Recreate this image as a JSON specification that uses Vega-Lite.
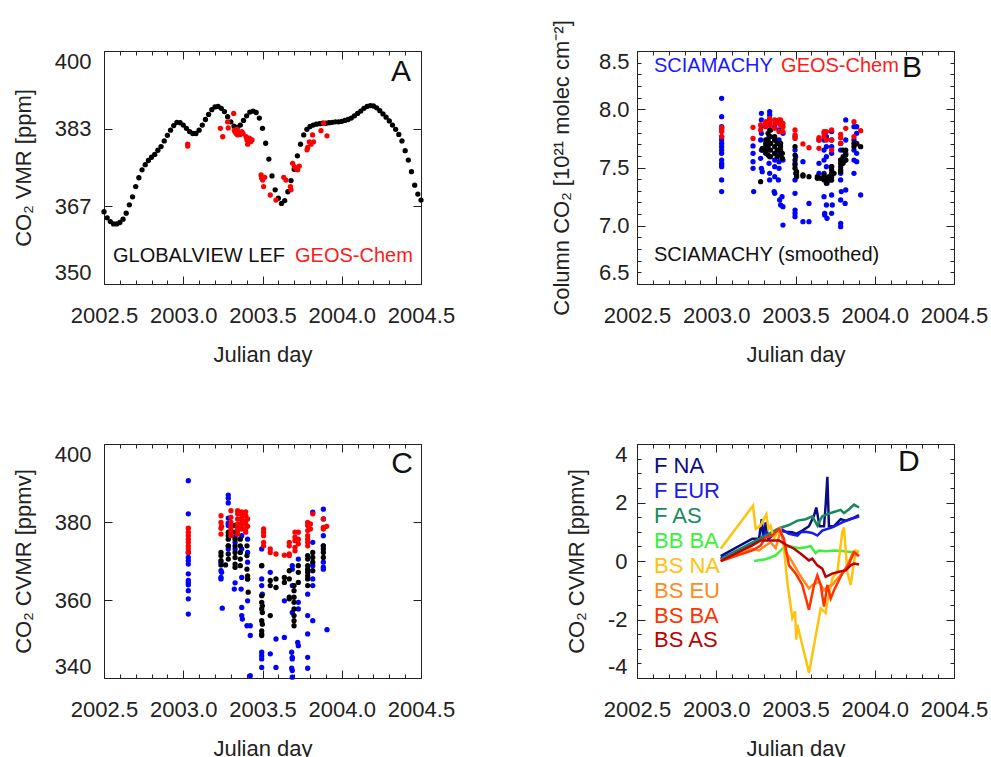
{
"$schema": "https://vega.github.io/schema/vega-lite/v6.json",
"padding": {"left": 11, "top": 19, "right": 5, "bottom": 5},
"background": "white",
"config": {
  "font": "Liberation Sans",
  "view": {"stroke": "#222", "strokeWidth": 1},
  "axis": {"grid": false, "domain": false, "labelFont": "Liberation Sans", "labelFontSize": 22, "labelColor": "#222", "titleFont": "Liberation Sans", "titleFontSize": 22, "titleFontWeight": "normal", "titleColor": "#222", "tickColor": "#222", "tickWidth": 1, "labelOverlap": false},
  "text": {"font": "Liberation Sans"},
  "circle": {"size": 28, "opacity": 1}
},
"datasets": {
"gv": [{"x":2002.50,"y":365.5},{"x":2002.52,"y":364.2},{"x":2002.54,"y":363.4},{"x":2002.56,"y":362.9},{"x":2002.58,"y":362.9},{"x":2002.60,"y":363.2},{"x":2002.62,"y":363.9},{"x":2002.64,"y":365.2},{"x":2002.66,"y":367.0},{"x":2002.68,"y":368.7},{"x":2002.70,"y":370.9},{"x":2002.72,"y":372.8},{"x":2002.74,"y":374.5},{"x":2002.76,"y":375.6},{"x":2002.78,"y":376.5},{"x":2002.80,"y":377.2},{"x":2002.82,"y":377.8},{"x":2002.84,"y":378.7},{"x":2002.86,"y":379.5},{"x":2002.88,"y":380.7},{"x":2002.90,"y":381.9},{"x":2002.92,"y":383.0},{"x":2002.94,"y":384.0},{"x":2002.96,"y":384.7},{"x":2002.98,"y":384.6},{"x":2003.00,"y":384.1},{"x":2003.02,"y":383.4},{"x":2003.04,"y":382.7},{"x":2003.06,"y":382.3},{"x":2003.08,"y":382.3},{"x":2003.10,"y":383.0},{"x":2003.12,"y":384.1},{"x":2003.14,"y":385.3},{"x":2003.16,"y":386.4},{"x":2003.18,"y":387.4},{"x":2003.20,"y":388.0},{"x":2003.22,"y":388.1},{"x":2003.24,"y":387.7},{"x":2003.26,"y":387.0},{"x":2003.28,"y":385.9},{"x":2003.30,"y":384.8},{"x":2003.32,"y":383.9},{"x":2003.34,"y":383.6},{"x":2003.36,"y":384.1},{"x":2003.38,"y":385.1},{"x":2003.40,"y":386.1},{"x":2003.42,"y":386.9},{"x":2003.44,"y":387.1},{"x":2003.46,"y":386.8},{"x":2003.48,"y":385.6},{"x":2003.50,"y":383.4},{"x":2003.52,"y":380.2},{"x":2003.54,"y":376.8},{"x":2003.56,"y":373.2},{"x":2003.58,"y":370.2},{"x":2003.60,"y":368.4},{"x":2003.62,"y":367.3},{"x":2003.64,"y":367.9},{"x":2003.66,"y":369.8},{"x":2003.68,"y":372.2},{"x":2003.70,"y":374.6},{"x":2003.72,"y":377.5},{"x":2003.74,"y":380.0},{"x":2003.76,"y":382.0},{"x":2003.78,"y":383.2},{"x":2003.80,"y":383.8},{"x":2003.82,"y":384.1},{"x":2003.84,"y":384.3},{"x":2003.86,"y":384.4},{"x":2003.88,"y":384.5},{"x":2003.90,"y":384.5},{"x":2003.92,"y":384.6},{"x":2003.94,"y":384.7},{"x":2003.96,"y":384.8},{"x":2003.98,"y":384.8},{"x":2004.00,"y":384.9},{"x":2004.02,"y":385.1},{"x":2004.04,"y":385.3},{"x":2004.06,"y":385.6},{"x":2004.08,"y":386.1},{"x":2004.10,"y":386.6},{"x":2004.12,"y":387.1},{"x":2004.14,"y":387.7},{"x":2004.16,"y":388.1},{"x":2004.18,"y":388.3},{"x":2004.20,"y":388.2},{"x":2004.22,"y":387.8},{"x":2004.24,"y":387.2},{"x":2004.26,"y":386.5},{"x":2004.28,"y":385.8},{"x":2004.30,"y":385.0},{"x":2004.32,"y":384.1},{"x":2004.34,"y":383.2},{"x":2004.36,"y":382.1},{"x":2004.38,"y":380.7},{"x":2004.40,"y":378.6},{"x":2004.42,"y":376.6},{"x":2004.44,"y":374.1},{"x":2004.46,"y":371.2},{"x":2004.48,"y":369.3},{"x":2004.50,"y":368.0}],
"gcA": [{"x":2003.028,"y":380.0},{"x":2003.028,"y":379.6},{"x":2003.234,"y":383.4},{"x":2003.249,"y":381.6},{"x":2003.280,"y":384.8},{"x":2003.284,"y":383.5},{"x":2003.318,"y":386.6},{"x":2003.322,"y":383.0},{"x":2003.327,"y":382.7},{"x":2003.333,"y":382.3},{"x":2003.339,"y":383.2},{"x":2003.343,"y":382.0},{"x":2003.348,"y":382.7},{"x":2003.354,"y":382.5},{"x":2003.360,"y":382.1},{"x":2003.369,"y":382.7},{"x":2003.377,"y":382.3},{"x":2003.396,"y":381.6},{"x":2003.402,"y":380.9},{"x":2003.406,"y":380.0},{"x":2003.417,"y":381.3},{"x":2003.425,"y":380.5},{"x":2003.434,"y":380.9},{"x":2003.491,"y":373.4},{"x":2003.495,"y":372.7},{"x":2003.501,"y":372.3},{"x":2003.507,"y":370.9},{"x":2003.514,"y":372.9},{"x":2003.549,"y":369.1},{"x":2003.585,"y":368.0},{"x":2003.634,"y":372.9},{"x":2003.648,"y":372.3},{"x":2003.676,"y":370.9},{"x":2003.680,"y":370.2},{"x":2003.690,"y":375.9},{"x":2003.701,"y":375.2},{"x":2003.711,"y":374.8},{"x":2003.722,"y":374.5},{"x":2003.732,"y":375.3},{"x":2003.781,"y":378.8},{"x":2003.785,"y":379.3},{"x":2003.795,"y":380.5},{"x":2003.806,"y":380.0},{"x":2003.816,"y":382.0},{"x":2003.822,"y":380.5},{"x":2003.869,"y":382.9},{"x":2003.886,"y":384.5},{"x":2003.907,"y":381.8}],
"sciaB": [{"x":2003.034,"y":8.094},{"x":2003.034,"y":7.936},{"x":2003.034,"y":7.850},{"x":2003.034,"y":7.836},{"x":2003.034,"y":7.765},{"x":2003.034,"y":7.736},{"x":2003.034,"y":7.707},{"x":2003.034,"y":7.679},{"x":2003.034,"y":7.650},{"x":2003.034,"y":7.622},{"x":2003.034,"y":7.564},{"x":2003.034,"y":7.536},{"x":2003.034,"y":7.521},{"x":2003.034,"y":7.507},{"x":2003.034,"y":7.393},{"x":2003.034,"y":7.293},
{"x":2003.232,"y":7.685},{"x":2003.232,"y":7.622},{"x":2003.232,"y":7.550},{"x":2003.232,"y":7.493},{"x":2003.236,"y":7.293},
{"x":2003.285,"y":7.965},{"x":2003.285,"y":7.908},{"x":2003.285,"y":7.850},{"x":2003.285,"y":7.793},{"x":2003.280,"y":7.736},{"x":2003.285,"y":7.650},{"x":2003.280,"y":7.579},{"x":2003.285,"y":7.493},{"x":2003.290,"y":7.464},
{"x":2003.337,"y":7.979},{"x":2003.337,"y":7.951},{"x":2003.337,"y":7.908},{"x":2003.337,"y":7.822},{"x":2003.333,"y":7.765},{"x":2003.337,"y":7.707},{"x":2003.333,"y":7.650},{"x":2003.337,"y":7.593},{"x":2003.333,"y":7.536},{"x":2003.337,"y":7.450},{"x":2003.337,"y":7.393},
{"x":2003.369,"y":7.850},{"x":2003.369,"y":7.736},{"x":2003.369,"y":7.622},{"x":2003.369,"y":7.564},{"x":2003.369,"y":7.507},{"x":2003.369,"y":7.421},{"x":2003.365,"y":7.293},{"x":2003.369,"y":7.278},
{"x":2003.396,"y":7.822},{"x":2003.396,"y":7.736},{"x":2003.396,"y":7.622},{"x":2003.396,"y":7.550},{"x":2003.396,"y":7.493},{"x":2003.392,"y":7.393},{"x":2003.400,"y":7.221},{"x":2003.406,"y":7.178},
{"x":2003.421,"y":7.793},{"x":2003.421,"y":7.564},{"x":2003.415,"y":7.250},{"x":2003.421,"y":7.164},{"x":2003.421,"y":7.006},
{"x":2003.497,"y":7.765},{"x":2003.497,"y":7.650},{"x":2003.501,"y":7.593},{"x":2003.497,"y":7.536},{"x":2003.501,"y":7.450},{"x":2003.497,"y":7.393},{"x":2003.497,"y":7.278},{"x":2003.497,"y":7.135},{"x":2003.497,"y":7.107},{"x":2003.497,"y":7.078},
{"x":2003.547,"y":7.550},{"x":2003.547,"y":7.035},{"x":2003.585,"y":7.192},{"x":2003.585,"y":7.035},
{"x":2003.648,"y":7.736},{"x":2003.648,"y":7.536},{"x":2003.648,"y":7.450},
{"x":2003.680,"y":7.736},{"x":2003.680,"y":7.650},{"x":2003.680,"y":7.564},{"x":2003.680,"y":7.450},{"x":2003.680,"y":7.250},{"x":2003.684,"y":7.107},{"x":2003.684,"y":7.092},
{"x":2003.695,"y":7.765},{"x":2003.695,"y":7.679},{"x":2003.695,"y":7.593},{"x":2003.695,"y":7.507},{"x":2003.699,"y":7.364},{"x":2003.695,"y":7.178},{"x":2003.699,"y":7.064},
{"x":2003.728,"y":7.808},{"x":2003.728,"y":7.736},{"x":2003.728,"y":7.679},{"x":2003.728,"y":7.622},{"x":2003.728,"y":7.507},{"x":2003.724,"y":7.393},{"x":2003.728,"y":7.264},{"x":2003.732,"y":7.178},{"x":2003.728,"y":7.107},
{"x":2003.785,"y":7.707},{"x":2003.785,"y":7.650},{"x":2003.785,"y":7.564},{"x":2003.785,"y":7.450},{"x":2003.785,"y":7.393},{"x":2003.789,"y":7.293},{"x":2003.785,"y":7.221},{"x":2003.785,"y":7.021},{"x":2003.785,"y":6.992},
{"x":2003.817,"y":7.908},{"x":2003.817,"y":7.736},{"x":2003.817,"y":7.622},{"x":2003.817,"y":7.564},{"x":2003.817,"y":7.307},{"x":2003.813,"y":7.192},
{"x":2003.869,"y":7.850},{"x":2003.869,"y":7.736},{"x":2003.869,"y":7.650},{"x":2003.869,"y":7.564},{"x":2003.869,"y":7.450},
{"x":2003.886,"y":7.850},{"x":2003.886,"y":7.793},{"x":2003.886,"y":7.707},{"x":2003.886,"y":7.622},{"x":2003.886,"y":7.550},{"x":2003.911,"y":7.264}],
"smB": [{"x":2003.280,"y":7.378},{"x":2003.291,"y":7.665},{"x":2003.291,"y":7.650},{"x":2003.312,"y":7.736},{"x":2003.312,"y":7.707},{"x":2003.312,"y":7.679},{"x":2003.312,"y":7.650},{"x":2003.312,"y":7.622},{"x":2003.327,"y":7.793},{"x":2003.327,"y":7.736},{"x":2003.327,"y":7.679},{"x":2003.327,"y":7.607},{"x":2003.343,"y":7.822},{"x":2003.343,"y":7.765},{"x":2003.343,"y":7.707},{"x":2003.343,"y":7.650},{"x":2003.343,"y":7.593},{"x":2003.369,"y":7.765},{"x":2003.369,"y":7.736},{"x":2003.369,"y":7.679},{"x":2003.369,"y":7.622},{"x":2003.385,"y":7.707},{"x":2003.385,"y":7.650},{"x":2003.385,"y":7.593},{"x":2003.406,"y":7.707},{"x":2003.406,"y":7.679},{"x":2003.406,"y":7.650},{"x":2003.406,"y":7.607},{"x":2003.417,"y":7.622},{"x":2003.417,"y":7.579},{"x":2003.497,"y":7.679},{"x":2003.497,"y":7.607},{"x":2003.497,"y":7.564},{"x":2003.497,"y":7.521},{"x":2003.497,"y":7.493},{"x":2003.507,"y":7.464},{"x":2003.507,"y":7.436},{"x":2003.507,"y":7.421},{"x":2003.547,"y":7.436},{"x":2003.547,"y":7.427},{"x":2003.585,"y":7.421},{"x":2003.638,"y":7.421},{"x":2003.638,"y":7.407},{"x":2003.659,"y":7.407},{"x":2003.680,"y":7.436},{"x":2003.680,"y":7.421},{"x":2003.680,"y":7.393},{"x":2003.695,"y":7.407},{"x":2003.695,"y":7.378},{"x":2003.695,"y":7.364},{"x":2003.711,"y":7.393},{"x":2003.711,"y":7.421},{"x":2003.728,"y":7.507},{"x":2003.728,"y":7.479},{"x":2003.728,"y":7.450},{"x":2003.728,"y":7.421},{"x":2003.728,"y":7.393},{"x":2003.743,"y":7.450},{"x":2003.785,"y":7.564},{"x":2003.785,"y":7.536},{"x":2003.785,"y":7.507},{"x":2003.785,"y":7.479},{"x":2003.785,"y":7.464},{"x":2003.800,"y":7.593},{"x":2003.800,"y":7.650},{"x":2003.800,"y":7.536},{"x":2003.817,"y":7.650},{"x":2003.817,"y":7.607},{"x":2003.817,"y":7.564},{"x":2003.869,"y":7.707},{"x":2003.869,"y":7.679},{"x":2003.886,"y":7.702},{"x":2003.911,"y":7.679}],
"gcB": [{"x":2003.034,"y":7.845},{"x":2003.034,"y":7.822},{"x":2003.034,"y":7.808},{"x":2003.034,"y":7.765},{"x":2003.232,"y":7.845},{"x":2003.232,"y":7.750},{"x":2003.280,"y":7.865},{"x":2003.280,"y":7.822},{"x":2003.312,"y":7.893},{"x":2003.312,"y":7.879},{"x":2003.312,"y":7.850},{"x":2003.337,"y":7.922},{"x":2003.337,"y":7.893},{"x":2003.337,"y":7.865},{"x":2003.369,"y":7.908},{"x":2003.369,"y":7.879},{"x":2003.369,"y":7.836},{"x":2003.396,"y":7.908},{"x":2003.396,"y":7.879},{"x":2003.396,"y":7.808},{"x":2003.406,"y":7.908},{"x":2003.406,"y":7.865},{"x":2003.421,"y":7.879},{"x":2003.421,"y":7.850},{"x":2003.421,"y":7.808},{"x":2003.497,"y":7.822},{"x":2003.497,"y":7.779},{"x":2003.497,"y":7.750},{"x":2003.547,"y":7.702},{"x":2003.585,"y":7.670},{"x":2003.648,"y":7.756},{"x":2003.648,"y":7.736},{"x":2003.648,"y":7.665},{"x":2003.680,"y":7.808},{"x":2003.680,"y":7.793},{"x":2003.680,"y":7.765},{"x":2003.695,"y":7.808},{"x":2003.695,"y":7.736},{"x":2003.728,"y":7.822},{"x":2003.728,"y":7.736},{"x":2003.728,"y":7.650},{"x":2003.785,"y":7.785},{"x":2003.785,"y":7.756},{"x":2003.785,"y":7.707},{"x":2003.817,"y":7.836},{"x":2003.869,"y":7.893},{"x":2003.869,"y":7.765},{"x":2003.911,"y":7.816}],
"sciaC": [{"x":2003.032,"y":390.6},{"x":2003.032,"y":382.1},{"x":2003.032,"y":372.2},{"x":2003.032,"y":370.9},{"x":2003.032,"y":370.1},{"x":2003.032,"y":369.2},{"x":2003.032,"y":366.7},{"x":2003.032,"y":365.0},{"x":2003.032,"y":364.4},{"x":2003.032,"y":363.9},{"x":2003.032,"y":362.4},{"x":2003.032,"y":360.3},{"x":2003.032,"y":356.4},
{"x":2003.238,"y":369.7},{"x":2003.238,"y":367.5},{"x":2003.242,"y":367.1},{"x":2003.238,"y":365.8},{"x":2003.238,"y":365.4},{"x":2003.246,"y":357.9},
{"x":2003.284,"y":386.9},{"x":2003.284,"y":386.1},{"x":2003.284,"y":384.9},{"x":2003.284,"y":381.0},{"x":2003.284,"y":379.7},{"x":2003.284,"y":379.1},{"x":2003.284,"y":373.9},{"x":2003.284,"y":373.1},
{"x":2003.327,"y":376.1},{"x":2003.327,"y":374.8},{"x":2003.327,"y":373.1},{"x":2003.327,"y":364.4},{"x":2003.322,"y":362.8},
{"x":2003.369,"y":376.5},{"x":2003.369,"y":373.1},{"x":2003.369,"y":365.8},{"x":2003.365,"y":362.8},{"x":2003.369,"y":358.1},{"x":2003.369,"y":356.0},{"x":2003.373,"y":355.1},
{"x":2003.406,"y":375.6},{"x":2003.406,"y":372.2},{"x":2003.406,"y":369.7},{"x":2003.406,"y":365.4},{"x":2003.406,"y":359.8},{"x":2003.402,"y":353.4},{"x":2003.423,"y":353.4},{"x":2003.423,"y":350.9},{"x":2003.423,"y":340.6},
{"x":2003.495,"y":373.1},{"x":2003.495,"y":368.8},{"x":2003.495,"y":365.4},{"x":2003.495,"y":363.7},{"x":2003.499,"y":361.5},{"x":2003.495,"y":346.6},{"x":2003.495,"y":345.7},{"x":2003.495,"y":344.9},{"x":2003.495,"y":342.7},
{"x":2003.549,"y":367.1},{"x":2003.549,"y":346.2},{"x":2003.585,"y":350.0},{"x":2003.585,"y":342.7},{"x":2003.638,"y":359.8},{"x":2003.638,"y":350.4},
{"x":2003.688,"y":368.8},{"x":2003.688,"y":367.9},{"x":2003.688,"y":363.7},{"x":2003.688,"y":356.8},{"x":2003.684,"y":346.6},{"x":2003.688,"y":345.3},{"x":2003.688,"y":344.9},{"x":2003.684,"y":342.5},{"x":2003.688,"y":341.9},{"x":2003.688,"y":340.2},
{"x":2003.726,"y":370.5},{"x":2003.726,"y":359.4},{"x":2003.726,"y":357.7},{"x":2003.722,"y":349.1},{"x":2003.726,"y":348.3},
{"x":2003.785,"y":361.5},{"x":2003.785,"y":356.0},{"x":2003.785,"y":351.3},{"x":2003.785,"y":345.3},{"x":2003.785,"y":342.5},
{"x":2003.817,"y":382.5},{"x":2003.817,"y":374.8},{"x":2003.817,"y":368.8},{"x":2003.817,"y":365.4},{"x":2003.817,"y":363.7},{"x":2003.817,"y":354.7},
{"x":2003.884,"y":383.3},{"x":2003.884,"y":380.8},{"x":2003.884,"y":376.5},{"x":2003.884,"y":373.9},{"x":2003.884,"y":369.7},{"x":2003.884,"y":368.4},{"x":2003.884,"y":367.9},{"x":2003.907,"y":352.4}],
"smC": [{"x":2003.238,"y":372.2},{"x":2003.238,"y":371.4},{"x":2003.238,"y":370.1},{"x":2003.238,"y":369.0},{"x":2003.267,"y":369.0},{"x":2003.284,"y":377.4},{"x":2003.284,"y":376.5},{"x":2003.284,"y":375.6},{"x":2003.284,"y":373.9},{"x":2003.284,"y":371.8},{"x":2003.284,"y":370.5},{"x":2003.327,"y":379.1},{"x":2003.327,"y":377.4},{"x":2003.327,"y":375.6},{"x":2003.327,"y":373.9},{"x":2003.327,"y":372.2},{"x":2003.327,"y":370.9},{"x":2003.327,"y":369.2},{"x":2003.327,"y":368.4},{"x":2003.360,"y":375.6},{"x":2003.360,"y":373.9},{"x":2003.360,"y":372.2},{"x":2003.360,"y":370.5},{"x":2003.360,"y":368.8},{"x":2003.402,"y":373.9},{"x":2003.402,"y":371.4},{"x":2003.402,"y":367.9},{"x":2003.406,"y":366.2},{"x":2003.406,"y":365.4},{"x":2003.410,"y":362.0},{"x":2003.495,"y":368.8},{"x":2003.495,"y":361.1},{"x":2003.495,"y":359.4},{"x":2003.499,"y":358.5},{"x":2003.495,"y":357.7},{"x":2003.499,"y":356.8},{"x":2003.495,"y":354.7},{"x":2003.499,"y":353.8},{"x":2003.495,"y":352.1},{"x":2003.495,"y":351.3},{"x":2003.495,"y":350.9},{"x":2003.549,"y":365.0},{"x":2003.549,"y":363.7},{"x":2003.549,"y":356.0},{"x":2003.585,"y":365.4},{"x":2003.585,"y":363.2},{"x":2003.638,"y":365.8},{"x":2003.638,"y":364.5},{"x":2003.669,"y":367.5},{"x":2003.669,"y":365.4},{"x":2003.669,"y":360.7},{"x":2003.669,"y":360.3},{"x":2003.699,"y":363.7},{"x":2003.699,"y":362.4},{"x":2003.699,"y":360.7},{"x":2003.699,"y":359.4},{"x":2003.699,"y":357.7},{"x":2003.699,"y":356.0},{"x":2003.699,"y":354.7},{"x":2003.699,"y":353.4},{"x":2003.726,"y":368.8},{"x":2003.726,"y":367.1},{"x":2003.726,"y":364.5},{"x":2003.785,"y":371.4},{"x":2003.785,"y":370.5},{"x":2003.785,"y":368.8},{"x":2003.785,"y":367.9},{"x":2003.785,"y":367.1},{"x":2003.785,"y":366.2},{"x":2003.785,"y":365.4},{"x":2003.785,"y":363.7},{"x":2003.817,"y":372.2},{"x":2003.817,"y":370.9},{"x":2003.817,"y":369.7},{"x":2003.817,"y":367.5},{"x":2003.884,"y":373.9},{"x":2003.884,"y":373.1},{"x":2003.884,"y":372.2},{"x":2003.884,"y":370.9}],
"gcC": [{"x":2003.032,"y":378.4},{"x":2003.032,"y":377.4},{"x":2003.032,"y":376.5},{"x":2003.032,"y":375.6},{"x":2003.032,"y":374.8},{"x":2003.032,"y":373.9},{"x":2003.032,"y":373.1},{"x":2003.032,"y":372.2},{"x":2003.238,"y":381.6},{"x":2003.238,"y":379.9},{"x":2003.242,"y":378.9},{"x":2003.238,"y":378.4},{"x":2003.238,"y":376.9},{"x":2003.301,"y":382.9},{"x":2003.301,"y":381.2},{"x":2003.301,"y":379.9},{"x":2003.301,"y":379.1},{"x":2003.301,"y":378.2},{"x":2003.301,"y":377.4},{"x":2003.301,"y":376.5},{"x":2003.343,"y":382.9},{"x":2003.343,"y":382.1},{"x":2003.343,"y":380.8},{"x":2003.343,"y":379.5},{"x":2003.343,"y":378.6},{"x":2003.343,"y":377.8},{"x":2003.343,"y":376.9},{"x":2003.369,"y":382.6},{"x":2003.369,"y":381.8},{"x":2003.369,"y":380.8},{"x":2003.369,"y":379.9},{"x":2003.369,"y":379.1},{"x":2003.369,"y":378.2},{"x":2003.394,"y":382.6},{"x":2003.394,"y":381.6},{"x":2003.394,"y":380.3},{"x":2003.394,"y":379.5},{"x":2003.394,"y":378.2},{"x":2003.394,"y":377.4},{"x":2003.406,"y":380.8},{"x":2003.406,"y":378.9},{"x":2003.507,"y":378.2},{"x":2003.507,"y":377.4},{"x":2003.507,"y":376.5},{"x":2003.507,"y":374.8},{"x":2003.507,"y":373.9},{"x":2003.549,"y":373.1},{"x":2003.549,"y":372.2},{"x":2003.585,"y":371.8},{"x":2003.638,"y":371.5},{"x":2003.669,"y":374.8},{"x":2003.669,"y":373.9},{"x":2003.669,"y":371.8},{"x":2003.669,"y":371.4},{"x":2003.705,"y":377.4},{"x":2003.705,"y":376.1},{"x":2003.705,"y":375.2},{"x":2003.705,"y":373.5},{"x":2003.705,"y":372.6},{"x":2003.726,"y":377.4},{"x":2003.726,"y":375.6},{"x":2003.726,"y":374.4},{"x":2003.785,"y":379.9},{"x":2003.785,"y":379.1},{"x":2003.785,"y":377.8},{"x":2003.785,"y":376.5},{"x":2003.785,"y":375.6},{"x":2003.785,"y":374.8},{"x":2003.785,"y":373.9},{"x":2003.802,"y":379.5},{"x":2003.802,"y":378.2},{"x":2003.817,"y":382.1},{"x":2003.884,"y":380.8},{"x":2003.884,"y":378.6},{"x":2003.884,"y":378.2},{"x":2003.905,"y":378.9}],
"flux": [
{"s":"F NA","x":2003.028,"y":0.17},{"s":"F NA","x":2003.228,"y":0.76},{"s":"F NA","x":2003.270,"y":0.76},{"s":"F NA","x":2003.287,"y":1.43},{"s":"F NA","x":2003.297,"y":0.76},{"s":"F NA","x":2003.312,"y":1.32},{"s":"F NA","x":2003.327,"y":0.76},{"s":"F NA","x":2003.354,"y":0.93},{"s":"F NA","x":2003.396,"y":1.04},{"s":"F NA","x":2003.438,"y":1.00},{"s":"F NA","x":2003.480,"y":0.98},{"s":"F NA","x":2003.505,"y":0.93},{"s":"F NA","x":2003.543,"y":1.04},{"s":"F NA","x":2003.585,"y":1.19},{"s":"F NA","x":2003.617,"y":1.55},{"s":"F NA","x":2003.631,"y":1.83},{"s":"F NA","x":2003.652,"y":1.19},{"s":"F NA","x":2003.680,"y":1.19},{"s":"F NA","x":2003.690,"y":1.89},{"s":"F NA","x":2003.701,"y":2.88},{"s":"F NA","x":2003.711,"y":1.19},{"s":"F NA","x":2003.743,"y":1.19},{"s":"F NA","x":2003.785,"y":1.43},{"s":"F NA","x":2003.817,"y":1.38},{"s":"F NA","x":2003.859,"y":1.46},{"s":"F NA","x":2003.901,"y":1.57},
{"s":"F EUR","x":2003.028,"y":0.08},{"s":"F EUR","x":2003.228,"y":0.59},{"s":"F EUR","x":2003.280,"y":0.76},{"s":"F EUR","x":2003.312,"y":0.98},{"s":"F EUR","x":2003.333,"y":0.76},{"s":"F EUR","x":2003.375,"y":0.98},{"s":"F EUR","x":2003.417,"y":1.07},{"s":"F EUR","x":2003.459,"y":0.93},{"s":"F EUR","x":2003.512,"y":0.87},{"s":"F EUR","x":2003.533,"y":0.98},{"s":"F EUR","x":2003.564,"y":1.00},{"s":"F EUR","x":2003.606,"y":0.96},{"s":"F EUR","x":2003.638,"y":0.87},{"s":"F EUR","x":2003.669,"y":1.04},{"s":"F EUR","x":2003.732,"y":1.15},{"s":"F EUR","x":2003.795,"y":1.32},{"s":"F EUR","x":2003.848,"y":1.43},{"s":"F EUR","x":2003.901,"y":1.52},
{"s":"F AS","x":2003.028,"y":0.06},{"s":"F AS","x":2003.228,"y":0.64},{"s":"F AS","x":2003.312,"y":0.87},{"s":"F AS","x":2003.396,"y":1.12},{"s":"F AS","x":2003.459,"y":1.23},{"s":"F AS","x":2003.512,"y":1.38},{"s":"F AS","x":2003.564,"y":1.43},{"s":"F AS","x":2003.606,"y":1.53},{"s":"F AS","x":2003.638,"y":1.21},{"s":"F AS","x":2003.669,"y":1.53},{"s":"F AS","x":2003.732,"y":1.66},{"s":"F AS","x":2003.785,"y":1.75},{"s":"F AS","x":2003.806,"y":1.64},{"s":"F AS","x":2003.838,"y":1.77},{"s":"F AS","x":2003.869,"y":1.93},{"s":"F AS","x":2003.901,"y":1.83},
{"s":"BB BA","x":2003.238,"y":0.00},{"s":"BB BA","x":2003.312,"y":0.06},{"s":"BB BA","x":2003.375,"y":0.19},{"s":"BB BA","x":2003.417,"y":0.42},{"s":"BB BA","x":2003.459,"y":0.51},{"s":"BB BA","x":2003.522,"y":0.44},{"s":"BB BA","x":2003.564,"y":0.47},{"s":"BB BA","x":2003.596,"y":0.51},{"s":"BB BA","x":2003.627,"y":0.27},{"s":"BB BA","x":2003.648,"y":0.36},{"s":"BB BA","x":2003.690,"y":0.33},{"s":"BB BA","x":2003.743,"y":0.36},{"s":"BB BA","x":2003.795,"y":0.34},{"s":"BB BA","x":2003.848,"y":0.31},{"s":"BB BA","x":2003.901,"y":0.31},
{"s":"BS NA","x":2003.028,"y":0.42},{"s":"BS NA","x":2003.232,"y":1.89},{"s":"BS NA","x":2003.249,"y":1.10},{"s":"BS NA","x":2003.280,"y":1.21},{"s":"BS NA","x":2003.295,"y":1.38},{"s":"BS NA","x":2003.316,"y":1.60},{"s":"BS NA","x":2003.329,"y":1.10},{"s":"BS NA","x":2003.343,"y":1.21},{"s":"BS NA","x":2003.364,"y":0.76},{"s":"BS NA","x":2003.396,"y":1.10},{"s":"BS NA","x":2003.421,"y":0.76},{"s":"BS NA","x":2003.448,"y":-0.71},{"s":"BS NA","x":2003.480,"y":-1.95},{"s":"BS NA","x":2003.497,"y":-1.72},{"s":"BS NA","x":2003.505,"y":-2.69},{"s":"BS NA","x":2003.512,"y":-2.18},{"s":"BS NA","x":2003.585,"y":-3.82},{"s":"BS NA","x":2003.606,"y":-3.20},{"s":"BS NA","x":2003.659,"y":-1.62},{"s":"BS NA","x":2003.690,"y":-1.78},{"s":"BS NA","x":2003.701,"y":-1.39},{"s":"BS NA","x":2003.732,"y":-0.60},{"s":"BS NA","x":2003.764,"y":-0.37},{"s":"BS NA","x":2003.795,"y":0.98},{"s":"BS NA","x":2003.806,"y":1.15},{"s":"BS NA","x":2003.827,"y":-0.37},{"s":"BS NA","x":2003.848,"y":-0.82},{"s":"BS NA","x":2003.880,"y":0.36},{"s":"BS NA","x":2003.901,"y":0.31},
{"s":"BS EU","x":2003.028,"y":0.00},{"s":"BS EU","x":2003.228,"y":0.42},{"s":"BS EU","x":2003.270,"y":0.36},{"s":"BS EU","x":2003.312,"y":0.53},{"s":"BS EU","x":2003.343,"y":0.64},{"s":"BS EU","x":2003.375,"y":0.44},{"s":"BS EU","x":2003.406,"y":1.04},{"s":"BS EU","x":2003.438,"y":0.31},{"s":"BS EU","x":2003.480,"y":-0.03},{"s":"BS EU","x":2003.522,"y":-0.43},{"s":"BS EU","x":2003.585,"y":-0.94},{"s":"BS EU","x":2003.606,"y":-0.82},{"s":"BS EU","x":2003.648,"y":-0.71},{"s":"BS EU","x":2003.680,"y":-1.00},{"s":"BS EU","x":2003.701,"y":-0.88},{"s":"BS EU","x":2003.732,"y":-0.82},{"s":"BS EU","x":2003.764,"y":-0.60},{"s":"BS EU","x":2003.795,"y":-0.43},{"s":"BS EU","x":2003.827,"y":-0.15},{"s":"BS EU","x":2003.859,"y":0.25},{"s":"BS EU","x":2003.896,"y":0.19},
{"s":"BS BA","x":2003.028,"y":0.00},{"s":"BS BA","x":2003.228,"y":0.36},{"s":"BS BA","x":2003.280,"y":0.53},{"s":"BS BA","x":2003.312,"y":0.81},{"s":"BS BA","x":2003.354,"y":0.87},{"s":"BS BA","x":2003.396,"y":1.10},{"s":"BS BA","x":2003.427,"y":0.76},{"s":"BS BA","x":2003.459,"y":-0.15},{"s":"BS BA","x":2003.501,"y":-0.43},{"s":"BS BA","x":2003.543,"y":-0.82},{"s":"BS BA","x":2003.585,"y":-1.67},{"s":"BS BA","x":2003.617,"y":-0.82},{"s":"BS BA","x":2003.638,"y":-0.49},{"s":"BS BA","x":2003.659,"y":-0.82},{"s":"BS BA","x":2003.680,"y":-1.56},{"s":"BS BA","x":2003.701,"y":-0.82},{"s":"BS BA","x":2003.722,"y":-1.28},{"s":"BS BA","x":2003.743,"y":-1.00},{"s":"BS BA","x":2003.774,"y":-0.66},{"s":"BS BA","x":2003.795,"y":-0.43},{"s":"BS BA","x":2003.838,"y":-0.09},{"s":"BS BA","x":2003.869,"y":0.31},{"s":"BS BA","x":2003.901,"y":0.17},
{"s":"BS AS","x":2003.028,"y":0.00},{"s":"BS AS","x":2003.228,"y":0.53},{"s":"BS AS","x":2003.280,"y":0.70},{"s":"BS AS","x":2003.333,"y":0.70},{"s":"BS AS","x":2003.396,"y":0.70},{"s":"BS AS","x":2003.448,"y":0.53},{"s":"BS AS","x":2003.491,"y":0.42},{"s":"BS AS","x":2003.533,"y":0.25},{"s":"BS AS","x":2003.585,"y":0.02},{"s":"BS AS","x":2003.606,"y":0.08},{"s":"BS AS","x":2003.638,"y":-0.15},{"s":"BS AS","x":2003.669,"y":-0.26},{"s":"BS AS","x":2003.690,"y":-0.54},{"s":"BS AS","x":2003.732,"y":-0.43},{"s":"BS AS","x":2003.774,"y":-0.37},{"s":"BS AS","x":2003.817,"y":-0.32},{"s":"BS AS","x":2003.848,"y":-0.15},{"s":"BS AS","x":2003.869,"y":-0.09},{"s":"BS AS","x":2003.901,"y":-0.12}
],
"legF": [{"s":"F NA","x":2002.607,"y":3.26},{"s":"F EUR","x":2002.607,"y":2.40},{"s":"F AS","x":2002.607,"y":1.55}],
"legB": [{"s":"BB BA","x":2002.607,"y":0.69},{"s":"BS NA","x":2002.607,"y":-0.16},{"s":"BS EU","x":2002.607,"y":-1.02},{"s":"BS BA","x":2002.607,"y":-1.87},{"s":"BS AS","x":2002.607,"y":-2.70}]
},
"columns": 2,
"spacing": {"row": 76, "column": 93},
"concat": [
{
  "width": 317, "height": 233,
  "resolve": {"axis": {"x": "independent", "y": "independent"}},
  "layer": [
    {"data": {"name": "gv"}, "mark": {"type": "circle", "color": "#000"},
     "encoding": {
       "x": {"field": "x", "type": "quantitative", "scale": {"domain": [2002.5, 2004.5], "nice": false, "zero": false},
             "axis": {"orient": "bottom", "values": [2002.5, 2003, 2003.5, 2004, 2004.5], "labelExpr": "format(datum.value, '.1f')", "tickSize": -8, "labelPadding": 29, "labelFlush": false, "title": "Julian day", "titlePadding": 18}},
       "y": {"field": "y", "type": "quantitative", "scale": {"domain": [350, 400], "nice": false, "zero": false},
             "axis": {"orient": "left", "values": [350, 366.667, 383.333, 400], "labelExpr": "format(datum.value, '.0f')", "tickSize": -8, "labelPadding": 21, "labelFlush": true, "title": "CO₂ VMR [ppm]", "titlePadding": 19}}
     }},
    {"data": {"name": "gcA"}, "mark": {"type": "circle", "color": "#ff0000"},
     "encoding": {
       "x": {"field": "x", "type": "quantitative", "axis": {"orient": "bottom", "values": [2002.6,2002.7,2002.8,2002.9,2003.1,2003.2,2003.3,2003.4,2003.6,2003.7,2003.8,2003.9,2004.1,2004.2,2004.3,2004.4], "tickSize": -4, "labels": false, "title": null}},
       "y": {"field": "y", "type": "quantitative", "axis": {"orient": "right", "values": [350, 366.667, 383.333, 400], "tickSize": -8, "labels": false, "title": null}}
     }},
    {"data": {"values": [{"x": 2002.557, "y": 356.0, "t": "GLOBALVIEW LEF"}]}, "mark": {"type": "text", "color": "#111", "fontSize": 20, "align": "left", "baseline": "middle"},
     "encoding": {
       "x": {"field": "x", "type": "quantitative", "axis": {"orient": "top", "values": [2002.5, 2003, 2003.5, 2004, 2004.5], "tickSize": -8, "labels": false, "title": null}},
       "y": {"field": "y", "type": "quantitative", "axis": null},
       "text": {"field": "t"}
     }},
    {"data": {"values": [{"x": 2003.705, "y": 356.0, "t": "GEOS-Chem"}]}, "mark": {"type": "text", "color": "#ff1a1a", "fontSize": 20, "align": "left", "baseline": "middle"},
     "encoding": {
       "x": {"field": "x", "type": "quantitative", "axis": {"orient": "top", "values": [2002.6,2002.7,2002.8,2002.9,2003.1,2003.2,2003.3,2003.4,2003.6,2003.7,2003.8,2003.9,2004.1,2004.2,2004.3,2004.4], "tickSize": -4, "labels": false, "title": null}},
       "y": {"field": "y", "type": "quantitative", "axis": null},
       "text": {"field": "t"}
     }},
    {"data": {"values": [{"x": 2004.437, "y": 395.5, "t": "A"}]}, "mark": {"type": "text", "color": "#111", "fontSize": 30, "align": "right", "baseline": "middle"},
     "encoding": {
       "x": {"field": "x", "type": "quantitative", "axis": null},
       "y": {"field": "y", "type": "quantitative", "axis": null},
       "text": {"field": "t"}
     }}
  ]
},
{
  "width": 317, "height": 233,
  "resolve": {"axis": {"x": "independent", "y": "independent"}},
  "layer": [
    {"data": {"name": "sciaB"}, "mark": {"type": "circle", "color": "#0000ff"},
     "encoding": {
       "x": {"field": "x", "type": "quantitative", "scale": {"domain": [2002.5, 2004.5], "nice": false, "zero": false},
             "axis": {"orient": "bottom", "values": [2002.5, 2003, 2003.5, 2004, 2004.5], "labelExpr": "format(datum.value, '.1f')", "tickSize": -8, "labelPadding": 29, "labelFlush": false, "title": "Julian day", "titlePadding": 18}},
       "y": {"field": "y", "type": "quantitative", "scale": {"domain": [6.5, 8.5], "nice": false, "zero": false},
             "axis": {"orient": "left", "values": [6.5, 7, 7.5, 8, 8.5], "labelExpr": "format(datum.value, '.1f')", "tickSize": -8, "labelPadding": 16, "labelFlush": true, "title": "Column CO₂ [10²¹ molec cm⁻²]", "titlePadding": 25}}
     }},
    {"data": {"name": "smB"}, "mark": {"type": "circle", "color": "#000"},
     "encoding": {
       "x": {"field": "x", "type": "quantitative", "axis": {"orient": "bottom", "values": [2002.6,2002.7,2002.8,2002.9,2003.1,2003.2,2003.3,2003.4,2003.6,2003.7,2003.8,2003.9,2004.1,2004.2,2004.3,2004.4], "tickSize": -4, "labels": false, "title": null}},
       "y": {"field": "y", "type": "quantitative", "axis": {"orient": "left", "values": [6.6,6.7,6.8,6.9,7.1,7.2,7.3,7.4,7.6,7.7,7.8,7.9,8.1,8.2,8.3,8.4], "tickSize": -4, "labels": false, "title": null}}
     }},
    {"data": {"name": "gcB"}, "mark": {"type": "circle", "color": "#ff0000"},
     "encoding": {
       "x": {"field": "x", "type": "quantitative", "axis": {"orient": "top", "values": [2002.5, 2003, 2003.5, 2004, 2004.5], "tickSize": -8, "labels": false, "title": null}},
       "y": {"field": "y", "type": "quantitative", "axis": {"orient": "right", "values": [6.5, 7, 7.5, 8, 8.5], "tickSize": -8, "labels": false, "title": null}}
     }},
    {"data": {"values": [{"x": 2002.607, "y": 8.371, "t": "SCIAMACHY"}]}, "mark": {"type": "text", "color": "#1a1aff", "fontSize": 20, "align": "left", "baseline": "middle"},
     "encoding": {
       "x": {"field": "x", "type": "quantitative", "axis": {"orient": "top", "values": [2002.6,2002.7,2002.8,2002.9,2003.1,2003.2,2003.3,2003.4,2003.6,2003.7,2003.8,2003.9,2004.1,2004.2,2004.3,2004.4], "tickSize": -4, "labels": false, "title": null}},
       "y": {"field": "y", "type": "quantitative", "axis": {"orient": "right", "values": [6.6,6.7,6.8,6.9,7.1,7.2,7.3,7.4,7.6,7.7,7.8,7.9,8.1,8.2,8.3,8.4], "tickSize": -4, "labels": false, "title": null}},
       "text": {"field": "t"}
     }},
    {"data": {"values": [{"x": 2003.409, "y": 8.371, "t": "GEOS-Chem"}]}, "mark": {"type": "text", "color": "#ff1a1a", "fontSize": 20, "align": "left", "baseline": "middle"},
     "encoding": {
       "x": {"field": "x", "type": "quantitative", "axis": null},
       "y": {"field": "y", "type": "quantitative", "axis": null},
       "text": {"field": "t"}
     }},
    {"data": {"values": [{"x": 2002.607, "y": 6.749, "t": "SCIAMACHY (smoothed)"}]}, "mark": {"type": "text", "color": "#111", "fontSize": 20, "align": "left", "baseline": "middle"},
     "encoding": {
       "x": {"field": "x", "type": "quantitative", "axis": null},
       "y": {"field": "y", "type": "quantitative", "axis": null},
       "text": {"field": "t"}
     }},
    {"data": {"values": [{"x": 2004.235, "y": 8.354, "t": "B"}]}, "mark": {"type": "text", "color": "#111", "fontSize": 30, "align": "center", "baseline": "middle"},
     "encoding": {
       "x": {"field": "x", "type": "quantitative", "axis": null},
       "y": {"field": "y", "type": "quantitative", "axis": null},
       "text": {"field": "t"}
     }}
  ]
},
{
  "width": 317, "height": 234,
  "resolve": {"axis": {"x": "independent", "y": "independent"}},
  "layer": [
    {"data": {"name": "sciaC"}, "mark": {"type": "circle", "color": "#0000ff"},
     "encoding": {
       "x": {"field": "x", "type": "quantitative", "scale": {"domain": [2002.5, 2004.5], "nice": false, "zero": false},
             "axis": {"orient": "bottom", "values": [2002.5, 2003, 2003.5, 2004, 2004.5], "labelExpr": "format(datum.value, '.1f')", "tickSize": -8, "labelPadding": 29, "labelFlush": false, "title": "Julian day", "titlePadding": 18}},
       "y": {"field": "y", "type": "quantitative", "scale": {"domain": [340, 400], "nice": false, "zero": false},
             "axis": {"orient": "left", "values": [340, 360, 380, 400], "labelExpr": "format(datum.value, '.0f')", "tickSize": -8, "labelPadding": 21, "labelFlush": true, "title": "CO₂ CVMR [ppmv]", "titlePadding": 19}}
     }},
    {"data": {"name": "smC"}, "mark": {"type": "circle", "color": "#000"},
     "encoding": {
       "x": {"field": "x", "type": "quantitative", "axis": {"orient": "bottom", "values": [2002.6,2002.7,2002.8,2002.9,2003.1,2003.2,2003.3,2003.4,2003.6,2003.7,2003.8,2003.9,2004.1,2004.2,2004.3,2004.4], "tickSize": -4, "labels": false, "title": null}},
       "y": {"field": "y", "type": "quantitative", "axis": {"orient": "right", "values": [340, 360, 380, 400], "tickSize": -8, "labels": false, "title": null}}
     }},
    {"data": {"name": "gcC"}, "mark": {"type": "circle", "color": "#ff0000"},
     "encoding": {
       "x": {"field": "x", "type": "quantitative", "axis": {"orient": "top", "values": [2002.5, 2003, 2003.5, 2004, 2004.5], "tickSize": -8, "labels": false, "title": null}},
       "y": {"field": "y", "type": "quantitative", "axis": null}
     }},
    {"data": {"values": [{"x": 2004.449, "y": 394.9, "t": "C"}]}, "mark": {"type": "text", "color": "#111", "fontSize": 30, "align": "right", "baseline": "middle"},
     "encoding": {
       "x": {"field": "x", "type": "quantitative", "axis": {"orient": "top", "values": [2002.6,2002.7,2002.8,2002.9,2003.1,2003.2,2003.3,2003.4,2003.6,2003.7,2003.8,2003.9,2004.1,2004.2,2004.3,2004.4], "tickSize": -4, "labels": false, "title": null}},
       "y": {"field": "y", "type": "quantitative", "axis": null},
       "text": {"field": "t"}
     }}
  ]
},
{
  "width": 317, "height": 234,
  "resolve": {"axis": {"x": "independent", "y": "independent"}},
  "layer": [
    {"data": {"name": "flux"}, "mark": {"type": "line", "strokeWidth": 2.5},
     "encoding": {
       "x": {"field": "x", "type": "quantitative", "scale": {"domain": [2002.5, 2004.5], "nice": false, "zero": false},
             "axis": {"orient": "bottom", "values": [2002.5, 2003, 2003.5, 2004, 2004.5], "labelExpr": "format(datum.value, '.1f')", "tickSize": -8, "labelPadding": 29, "labelFlush": false, "title": "Julian day", "titlePadding": 18}},
       "y": {"field": "y", "type": "quantitative", "scale": {"domain": [-4, 4], "nice": false, "zero": false},
             "axis": {"orient": "left", "values": [-4, -2, 0, 2, 4], "labelExpr": "'' + datum.value", "tickSize": -8, "labelPadding": 18, "labelFlush": true, "title": "CO₂ CVMR [ppmv]", "titlePadding": 19}},
       "color": {"field": "s", "type": "nominal", "legend": null,
                 "scale": {"domain": ["F NA", "F EUR", "F AS", "BB BA", "BS NA", "BS EU", "BS BA", "BS AS"], "range": ["#0c0c82", "#1818f0", "#178a5c", "#3cf03c", "#ffc20e", "#ff8a1e", "#ff3300", "#c00000"]}}
     }},
    {"data": {"name": "legF"}, "mark": {"type": "text", "fontSize": 22, "align": "left", "baseline": "middle"},
     "encoding": {
       "x": {"field": "x", "type": "quantitative", "axis": {"orient": "bottom", "values": [2002.6,2002.7,2002.8,2002.9,2003.1,2003.2,2003.3,2003.4,2003.6,2003.7,2003.8,2003.9,2004.1,2004.2,2004.3,2004.4], "tickSize": -4, "labels": false, "title": null}},
       "y": {"field": "y", "type": "quantitative", "axis": {"orient": "left", "values": [-3.5,-3,-2.5,-1.5,-1,-0.5,0.5,1,1.5,2.5,3,3.5], "tickSize": -4, "labels": false, "title": null}},
       "color": {"field": "s", "type": "nominal", "legend": null},
       "text": {"field": "s"}
     }},
    {"data": {"name": "legB"}, "mark": {"type": "text", "fontSize": 22, "align": "left", "baseline": "middle"},
     "encoding": {
       "x": {"field": "x", "type": "quantitative", "axis": {"orient": "top", "values": [2002.5, 2003, 2003.5, 2004, 2004.5], "tickSize": -8, "labels": false, "title": null}},
       "y": {"field": "y", "type": "quantitative", "axis": {"orient": "right", "values": [-4, -2, 0, 2, 4], "tickSize": -8, "labels": false, "title": null}},
       "color": {"field": "s", "type": "nominal", "legend": null},
       "text": {"field": "s"}
     }},
    {"data": {"values": [{"x": 2004.215, "y": 3.38, "t": "D"}]}, "mark": {"type": "text", "color": "#111", "fontSize": 30, "align": "center", "baseline": "middle"},
     "encoding": {
       "x": {"field": "x", "type": "quantitative", "axis": {"orient": "top", "values": [2002.6,2002.7,2002.8,2002.9,2003.1,2003.2,2003.3,2003.4,2003.6,2003.7,2003.8,2003.9,2004.1,2004.2,2004.3,2004.4], "tickSize": -4, "labels": false, "title": null}},
       "y": {"field": "y", "type": "quantitative", "axis": {"orient": "right", "values": [-3.5,-3,-2.5,-1.5,-1,-0.5,0.5,1,1.5,2.5,3,3.5], "tickSize": -4, "labels": false, "title": null}},
       "text": {"field": "t"}
     }}
  ]
}
]
}
